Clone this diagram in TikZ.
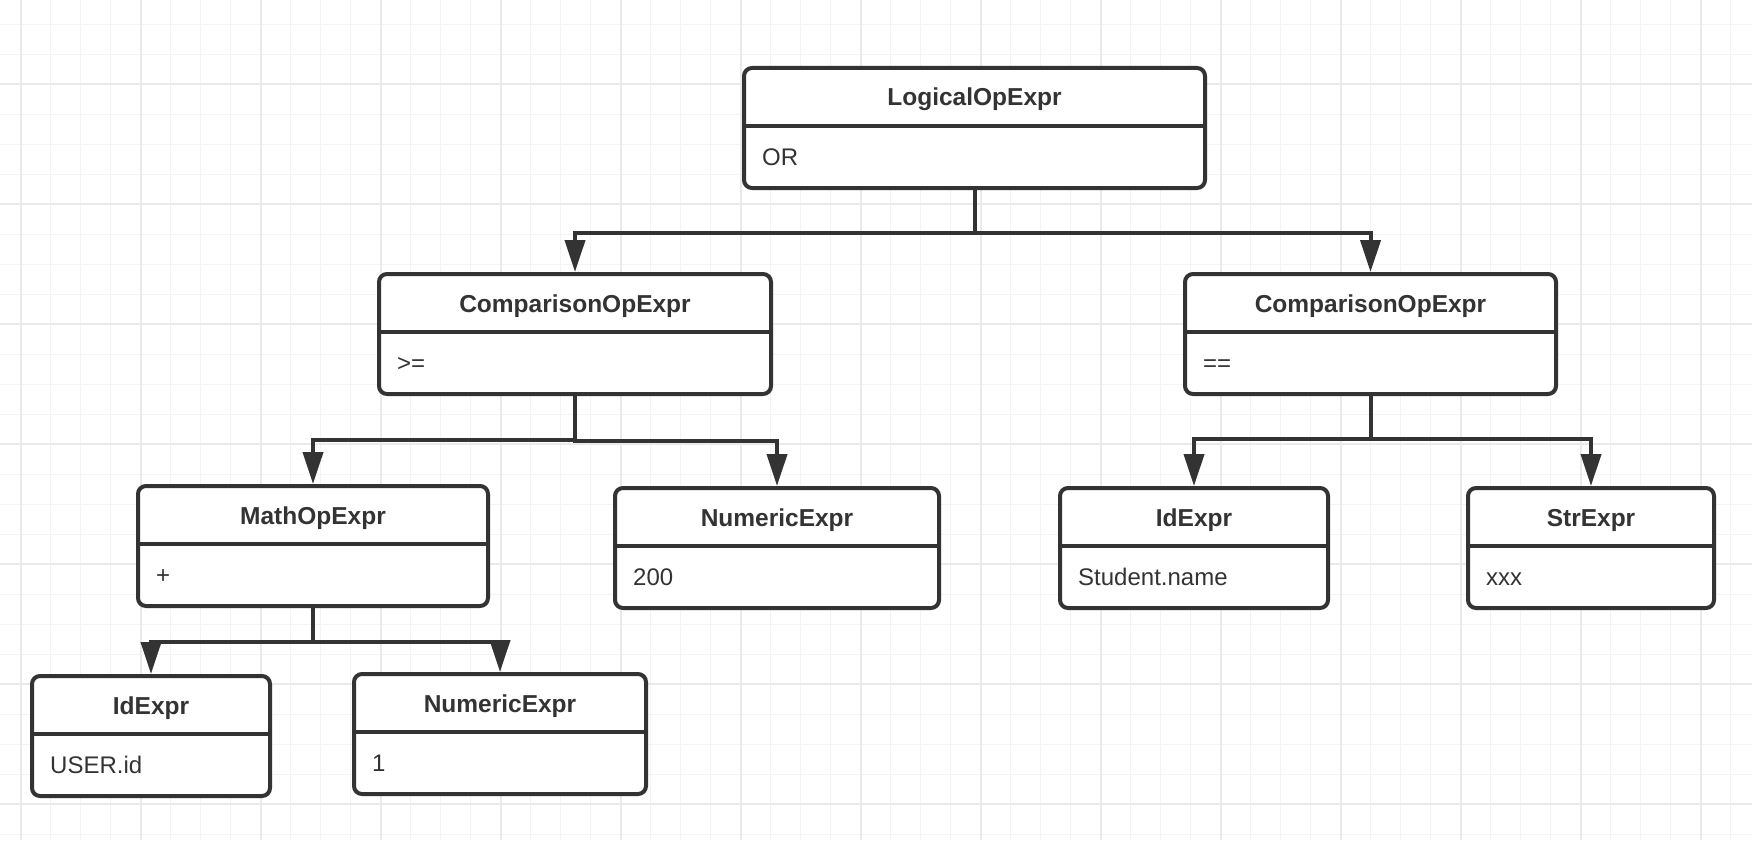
\documentclass[tikz,border=0pt]{standalone}
\usepackage{fontspec}
\setmainfont{Liberation Sans}
\usetikzlibrary{arrows.meta,calc}
\definecolor{ink}{HTML}{333333}
\definecolor{gmin}{HTML}{F4F4F4}
\definecolor{gmaj}{HTML}{EAEAEA}
\tikzset{
  ubox/.style={draw=ink, line width=4pt, rounded corners=8pt, fill=white, inner sep=0pt, rectangle},
  utitle/.style={text=ink, font=\fontsize{24.5}{29}\selectfont\bfseries, inner sep=0pt, anchor=base},
  ubody/.style={text=ink, font=\fontsize{24}{29}\selectfont, inner sep=0pt, anchor=base west},
  usep/.style={draw=ink, line width=4pt},
  conn/.style={draw=ink, line width=4pt, -{Triangle[length=32pt,width=20pt]}},
  gminor/.style={draw=gmin, line width=1.5pt},
  gmajor/.style={draw=gmaj, line width=2pt}
}
\newcommand{\umlbox}[7]{%
  \node[ubox, minimum width=#4pt, minimum height=#5pt, anchor=north west] (#1) at (#2,#3) {};
  \draw[usep] ($(#1.north west)+(0,60)$) -- ($(#1.north east)+(0,60)$);
  \node[utitle] (#1-t) at ($(#1.north)+(0,40)$) {#6};
  \node[ubody] (#1-b) at ($(#1.north west)+(20,99)$) {#7};
}
\begin{document}
\begin{tikzpicture}[x=1pt,y=-1pt]
\fill[white] (0,0) rectangle (1752,840);
\useasboundingbox (0,0) rectangle (1752,840);
\begin{scope}
\clip (0,0) rectangle (1752,840);
\foreach \i in {0,...,59} { \draw[gminor] ({-9.3+30*\i},0) -- ({-9.3+30*\i},840); }
\foreach \i in {0,...,29} { \draw[gminor] (0,{-5.7+30*\i}) -- (1752,{-5.7+30*\i}); }
\foreach \i in {0,...,14} { \draw[gmajor] ({20.7+120*\i},0) -- ({20.7+120*\i},840); }
\foreach \i in {0,...,7} { \draw[gmajor] (0,{-35.7+120*\i}) -- (1752,{-35.7+120*\i}); }
\end{scope}

\umlbox{log}{742}{66}{461}{120}{LogicalOpExpr}{OR}
\umlbox{cmpL}{377}{272}{392}{120}{ComparisonOpExpr}{>=}
\umlbox{cmpR}{1183}{272}{371}{120}{ComparisonOpExpr}{==}
\umlbox{math}{136}{484}{350}{120}{MathOpExpr}{+}
\umlbox{num200}{613}{486}{324}{120}{NumericExpr}{200}
\umlbox{idS}{1058}{486}{268}{120}{IdExpr}{Student.name}
\umlbox{str}{1466}{486}{246}{120}{StrExpr}{xxx}
\umlbox{idU}{30}{674}{238}{120}{IdExpr}{USER.id}
\umlbox{num1}{352}{672}{292}{120}{NumericExpr}{1}

\draw[conn] (log.south) -- ($(log.south)+(0,43)$) -| (cmpL.north);
\draw[conn] (log.south) -- ($(log.south)+(0,43)$) -| (cmpR.north);
\draw[conn] (cmpL.south) -- ($(cmpL.south)+(0,44)$) -| (math.north);
\draw[conn] (cmpL.south) -- ($(cmpL.south)+(0,45)$) -| (num200.north);
\draw[conn] (cmpR.south) -- ($(cmpR.south)+(0,43)$) -| (idS.north);
\draw[conn] (cmpR.south) -- ($(cmpR.south)+(0,43)$) -| (str.north);
\draw[conn] (math.south) -- ($(math.south)+(0,34)$) -| (idU.north);
\draw[conn] (math.south) -- ($(math.south)+(0,34)$) -| (num1.north);
\end{tikzpicture}
\end{document}
